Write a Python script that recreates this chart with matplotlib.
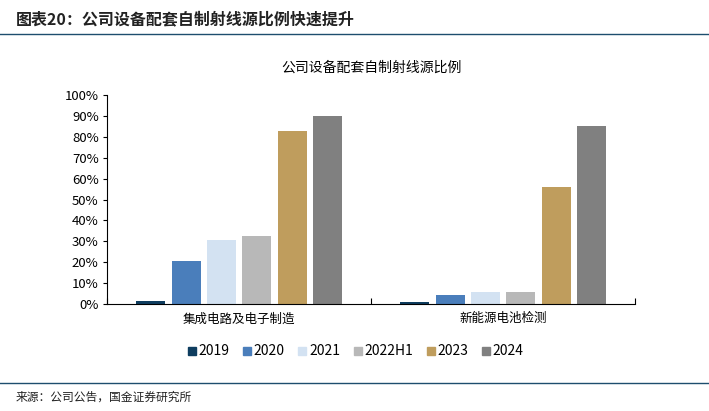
import matplotlib.pyplot as plt
import numpy as np
from matplotlib.lines import Line2D
from matplotlib.ticker import PercentFormatter

plt.rcParams['font.family'] = ['Noto Sans CJK SC', 'DejaVu Sans']

categories = ['集成电路及电子制造', '新能源电池检测']
years = ['2019', '2020', '2021', '2022H1', '2023', '2024']
values = {
    '2019': [1.5, 1.0],
    '2020': [20.7, 4.5],
    '2021': [30.6, 5.6],
    '2022H1': [32.4, 5.9],
    '2023': [82.6, 56.2],
    '2024': [90.0, 85.3],
}
colors = ['#0e3d5f', '#4a7ebb', '#d3e2f2', '#b8b8b8', '#bf9d5d', '#808080']

fig = plt.figure(figsize=(7.09, 4.11), dpi=100)
ax = fig.add_axes([0.151, 0.260, 0.745, 0.509])

x = np.arange(len(categories))
step = 0.134
width = 0.11
for i, (yr, c) in enumerate(zip(years, colors)):
    offs = (i - 2.5) * step
    ax.bar(x + offs, np.array(values[yr]) / 100, width=width, color=c, label=yr)

ax.set_xlim(-0.5, 1.5)
ax.set_ylim(0, 1.0)
ax.yaxis.set_major_formatter(PercentFormatter(1.0, decimals=0))
ax.set_yticks(np.arange(0, 1.01, 0.1))
ax.tick_params(axis='y', labelsize=9.5, length=3, width=0.8, direction='out', pad=3)
ax.set_xticks(x)
ax.set_xticklabels(categories, fontsize=9)
ax.tick_params(axis='x', length=0, pad=6)
ax.set_xticks([-0.5, 0.5, 1.5], minor=True)
ax.tick_params(axis='x', which='minor', length=4, direction='in', width=0.8)
for s in ['top', 'right']:
    ax.spines[s].set_visible(False)
ax.spines['left'].set_linewidth(0.8)
ax.spines['bottom'].set_linewidth(0.8)

ax.set_title('公司设备配套自制射线源比例', fontsize=10, pad=17)

handles = [Line2D([], [], marker='s', linestyle='none', markersize=6,
                  markerfacecolor=c, markeredgecolor=c) for c in colors]
fig.legend(handles, years, loc='center', bbox_to_anchor=(0.50, 0.145), ncol=6,
           frameon=False, fontsize=10, handletextpad=0.05, columnspacing=0.8,
           handlelength=0.9)

# header and footer
fig.text(0.022, 0.952, '图表20：公司设备配套自制射线源比例快速提升', fontsize=11.5,
         fontweight='bold', style='italic', color='#222222', va='center')
fig.add_artist(Line2D([0.0, 1.0], [0.918, 0.918], color='#1d4e6e', linewidth=1.0,
                      transform=fig.transFigure))
fig.add_artist(Line2D([0.0, 1.0], [0.068, 0.068], color='#1d4e6e', linewidth=1.0,
                      transform=fig.transFigure))
fig.text(0.022, 0.034, '来源：公司公告，国金证券研究所', fontsize=8.5, color='#222222',
         va='center')

fig.savefig('out.png', dpi=100)
